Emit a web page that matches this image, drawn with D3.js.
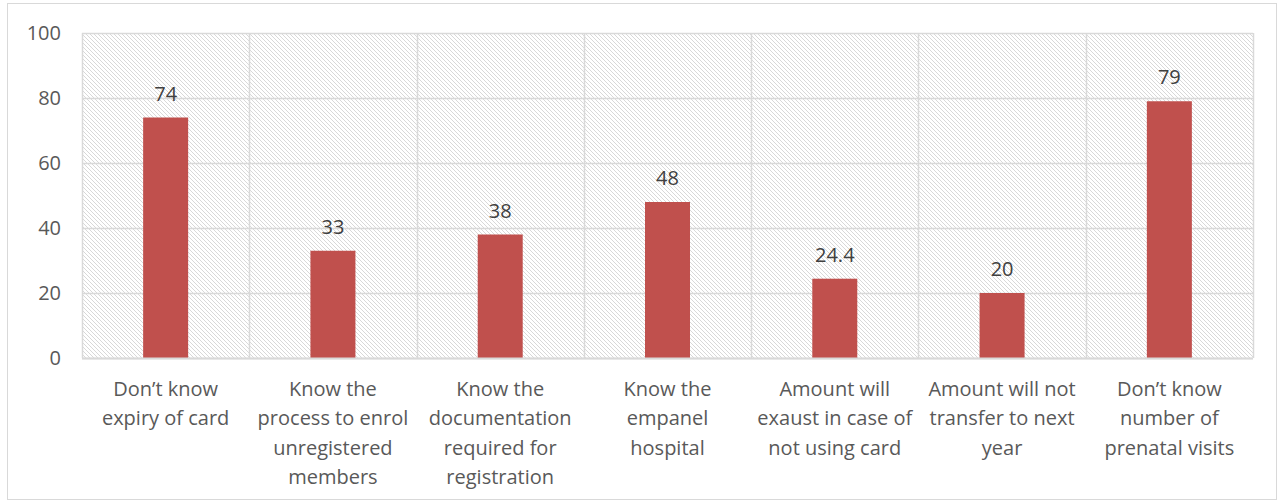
<!DOCTYPE html>
<html><head><meta charset="utf-8">
<script src="https://cdn.jsdelivr.net/npm/d3@7"></script>
<style>body{margin:0;background:#fff}svg{display:block}</style>
</head><body>
<script>
const categories = [
  ["Don’t know", "expiry of card"],
  ["Know the", "process to enrol", "unregistered", "members"],
  ["Know the", "documentation", "required for", "registration"],
  ["Know the", "empanel", "hospital"],
  ["Amount will", "exaust in case of", "not using card"],
  ["Amount will not", "transfer to next", "year"],
  ["Don’t know", "number of", "prenatal visits"]
];
const values = [74, 33, 38, 48, 24.4, 20, 79];
const yTicks = [0, 20, 40, 60, 80, 100];

const W = 1281, H = 503;
const m = {left: 82, right: 28, top: 33, bottom: 145};
const svg = d3.select("body").append("svg").attr("width", W).attr("height", H);
const font = "'Open Sans', sans-serif";
const fs = 20;

svg.append("rect").attr("x", 7.5).attr("y", 3.5).attr("width", 1269).attr("height", 496)
  .attr("fill", "#fff").attr("stroke", "#d9d9d9");

const defs = svg.append("defs");
const pat = defs.append("pattern").attr("id", "hatch").attr("patternUnits", "userSpaceOnUse")
  .attr("width", 4).attr("height", 4);
pat.append("path").attr("d", "M-1,-1 L5,5 M-1,3 L1,5 M3,-1 L5,1")
  .attr("stroke", "#d4d4d4").attr("stroke-width", 0.9);

const x = d3.scaleBand().domain(d3.range(categories.length)).range([m.left, W - m.right]).padding(0);
const y = d3.scaleLinear().domain([0, 100]).range([H - m.bottom, m.top]);

svg.append("rect").attr("x", m.left).attr("y", m.top)
  .attr("width", W - m.right - m.left).attr("height", y(0) - m.top).attr("fill", "url(#hatch)");

// horizontal grid
svg.append("g").selectAll("line").data(yTicks).join("line")
  .attr("x1", m.left).attr("x2", W - m.right)
  .attr("y1", d => Math.round(y(d)) + 0.5).attr("y2", d => Math.round(y(d)) + 0.5)
  .attr("stroke", "#d9d9d9").attr("stroke-width", 1.5);
// vertical grid
const bounds = d3.range(categories.length + 1).map(i => i < categories.length ? x(i) : x(i - 1) + x.bandwidth());
svg.append("g").selectAll("line").data(bounds).join("line")
  .attr("x1", d => Math.round(d) + 0.5).attr("x2", d => Math.round(d) + 0.5)
  .attr("y1", m.top).attr("y2", y(0))
  .attr("stroke", "#d9d9d9").attr("stroke-width", 1.5);

// y axis labels
const yAxis = d3.axisLeft(y).tickValues(yTicks).tickSize(0).tickPadding(21);
const ga = svg.append("g").attr("transform", `translate(${m.left},0)`).call(yAxis);
ga.select(".domain").remove();
ga.selectAll("text").attr("font-family", font).attr("font-size", fs).attr("fill", "#595959");

// bars
const bw = 45;
svg.append("g").selectAll("rect").data(values).join("rect")
  .attr("x", (d, i) => x(i) + x.bandwidth() / 2 - bw / 2)
  .attr("y", d => y(d)).attr("width", bw).attr("height", d => y(0) - y(d))
  .attr("fill", "#c0504d");

// zero line
svg.append("line").attr("x1", m.left).attr("x2", W - m.right)
  .attr("y1", y(0) + 0.5).attr("y2", y(0) + 0.5).attr("stroke", "#d9d9d9").attr("stroke-width", 2);

// data labels
svg.append("g").selectAll("text").data(values).join("text")
  .attr("x", (d, i) => x(i) + x.bandwidth() / 2)
  .attr("y", d => y(d) - 17)
  .attr("text-anchor", "middle").attr("font-family", font).attr("font-size", fs).attr("fill", "#404040")
  .text(d => d);

// category labels
const cl = svg.append("g").selectAll("text").data(categories).join("text")
  .attr("x", (d, i) => x(i) + x.bandwidth() / 2)
  .attr("y", y(0) + 38)
  .attr("text-anchor", "middle").attr("font-family", font).attr("font-size", fs).attr("fill", "#595959");
cl.each(function(d, i) {
  const t = d3.select(this);
  d.forEach((line, j) => t.append("tspan").attr("x", x(i) + x.bandwidth() / 2)
    .attr("dy", j === 0 ? 0 : 29.3).text(line));
});
</script>
</body></html>
